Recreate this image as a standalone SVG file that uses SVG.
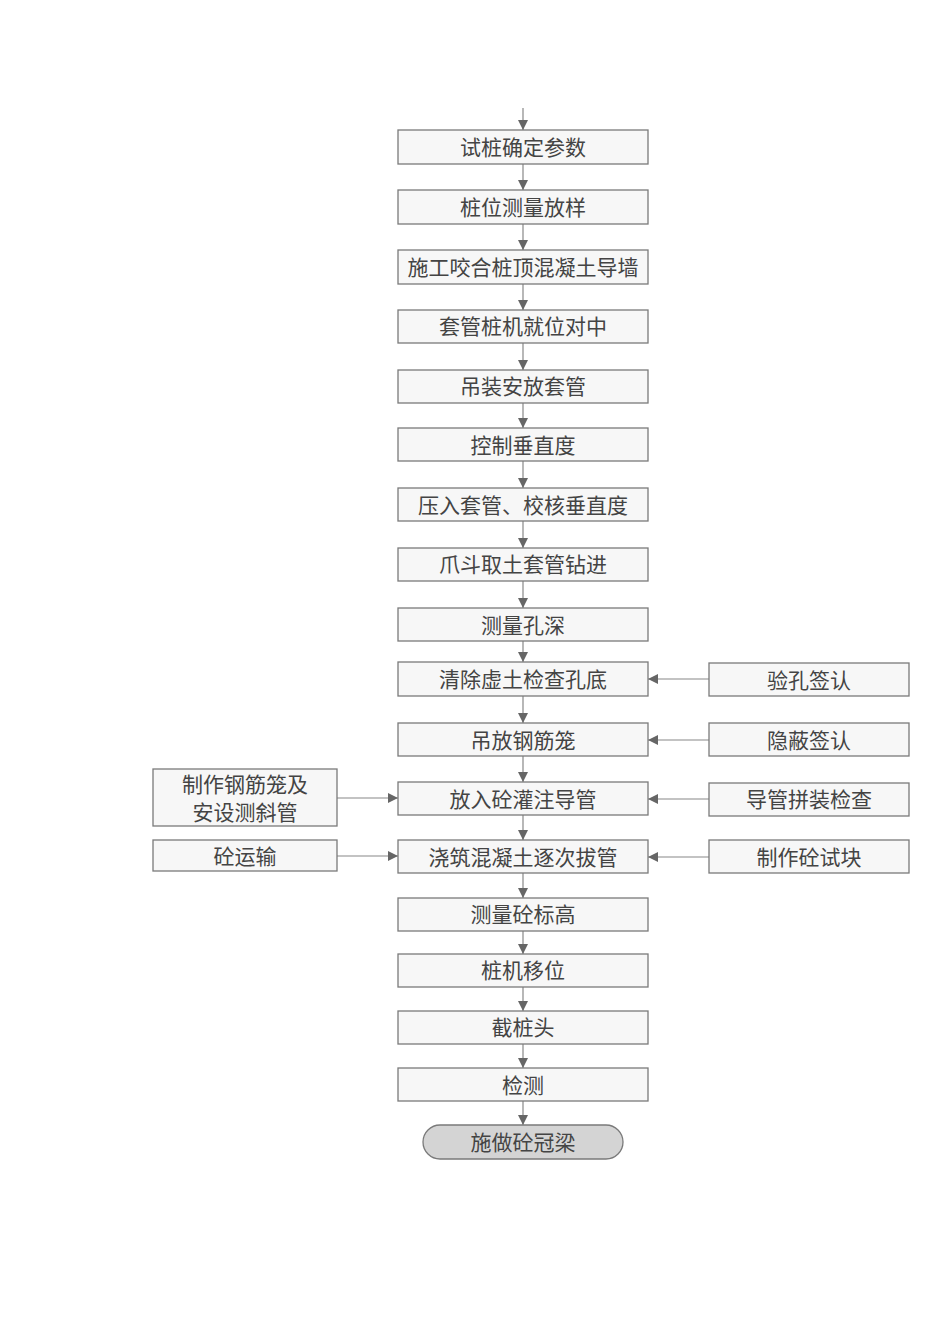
<svg xmlns="http://www.w3.org/2000/svg" width="950" height="1318" viewBox="0 0 950 1318">
<defs>
<marker id="ah" viewBox="0 0 10 10" refX="10" refY="5" markerWidth="10" markerHeight="10" markerUnits="userSpaceOnUse" orient="auto">
<path d="M0,0 L10,5 L0,10 Z" fill="#666"/>
</marker>
<style>
.b{fill:#f7f7f7;stroke:#7a7a7a;stroke-width:1.3}
.e{fill:#d4d4d4;stroke:#7a7a7a;stroke-width:1.3}
.t{font-family:"Noto Sans CJK SC","Noto Sans",sans-serif;font-size:21px;fill:#444;text-anchor:middle;dominant-baseline:central}
.c{stroke:#888;stroke-width:1.2;fill:none;marker-end:url(#ah)}
</style>
</defs>
<rect width="950" height="1318" fill="#fff"/>
<g id="connectors">
<line class="c" x1="523" y1="108" x2="523" y2="130"/>
<line class="c" x1="523" y1="164" x2="523" y2="190"/>
<line class="c" x1="523" y1="224" x2="523" y2="250"/>
<line class="c" x1="523" y1="284" x2="523" y2="310"/>
<line class="c" x1="523" y1="343" x2="523" y2="370"/>
<line class="c" x1="523" y1="403" x2="523" y2="428"/>
<line class="c" x1="523" y1="461" x2="523" y2="488"/>
<line class="c" x1="523" y1="521" x2="523" y2="548"/>
<line class="c" x1="523" y1="581" x2="523" y2="608"/>
<line class="c" x1="523" y1="641" x2="523" y2="662"/>
<line class="c" x1="523" y1="696" x2="523" y2="723"/>
<line class="c" x1="523" y1="756" x2="523" y2="782"/>
<line class="c" x1="523" y1="815" x2="523" y2="840"/>
<line class="c" x1="523" y1="873" x2="523" y2="898"/>
<line class="c" x1="523" y1="931" x2="523" y2="954"/>
<line class="c" x1="523" y1="987" x2="523" y2="1011"/>
<line class="c" x1="523" y1="1044" x2="523" y2="1068"/>
<line class="c" x1="523" y1="1101" x2="523" y2="1125"/>
<line class="c" x1="709" y1="679" x2="648" y2="679"/>
<line class="c" x1="709" y1="740" x2="648" y2="740"/>
<line class="c" x1="709" y1="799" x2="648" y2="799"/>
<line class="c" x1="709" y1="857" x2="648" y2="857"/>
<line class="c" x1="337" y1="798" x2="398" y2="798"/>
<line class="c" x1="337" y1="856" x2="398" y2="856"/>
</g>
<g id="n1"><rect class="b" x="398" y="130" width="250" height="34"/><text class="t" x="523" y="146">试桩确定参数</text></g>
<g id="n2"><rect class="b" x="398" y="190" width="250" height="34"/><text class="t" x="523" y="206">桩位测量放样</text></g>
<g id="n3"><rect class="b" x="398" y="250" width="250" height="34"/><text class="t" x="523" y="266">施工咬合桩顶混凝土导墙</text></g>
<g id="n4"><rect class="b" x="398" y="310" width="250" height="33"/><text class="t" x="523" y="325">套管桩机就位对中</text></g>
<g id="n5"><rect class="b" x="398" y="370" width="250" height="33"/><text class="t" x="523" y="385">吊装安放套管</text></g>
<g id="n6"><rect class="b" x="398" y="428" width="250" height="33"/><text class="t" x="523" y="444">控制垂直度</text></g>
<g id="n7"><rect class="b" x="398" y="488" width="250" height="33"/><text class="t" x="523" y="504">压入套管、校核垂直度</text></g>
<g id="n8"><rect class="b" x="398" y="548" width="250" height="33"/><text class="t" x="523" y="563">爪斗取土套管钻进</text></g>
<g id="n9"><rect class="b" x="398" y="608" width="250" height="33"/><text class="t" x="523" y="624">测量孔深</text></g>
<g id="n10"><rect class="b" x="398" y="662" width="250" height="34"/><text class="t" x="523" y="678">清除虚土检查孔底</text></g>
<g id="n11"><rect class="b" x="398" y="723" width="250" height="33"/><text class="t" x="523" y="739">吊放钢筋笼</text></g>
<g id="n12"><rect class="b" x="398" y="782" width="250" height="33"/><text class="t" x="523" y="798">放入砼灌注导管</text></g>
<g id="n13"><rect class="b" x="398" y="840" width="250" height="33"/><text class="t" x="523" y="856">浇筑混凝土逐次拔管</text></g>
<g id="n14"><rect class="b" x="398" y="898" width="250" height="33"/><text class="t" x="523" y="913">测量砼标高</text></g>
<g id="n15"><rect class="b" x="398" y="954" width="250" height="33"/><text class="t" x="523" y="969">桩机移位</text></g>
<g id="n16"><rect class="b" x="398" y="1011" width="250" height="33"/><text class="t" x="523" y="1026">截桩头</text></g>
<g id="n17"><rect class="b" x="398" y="1068" width="250" height="33"/><text class="t" x="523" y="1084">检测</text></g>
<g id="n18"><rect class="e" x="423" y="1125" width="200" height="34" rx="17" ry="17"/><text class="t" x="523" y="1141">施做砼冠梁</text></g>
<g id="r1"><rect class="b" x="709" y="663" width="200" height="33"/><text class="t" x="809" y="679">验孔签认</text></g>
<g id="r2"><rect class="b" x="709" y="723" width="200" height="33"/><text class="t" x="809" y="739">隐蔽签认</text></g>
<g id="r3"><rect class="b" x="709" y="783" width="200" height="33"/><text class="t" x="809" y="798">导管拼装检查</text></g>
<g id="r4"><rect class="b" x="709" y="840" width="200" height="33"/><text class="t" x="809" y="856">制作砼试块</text></g>
<g id="l1"><rect class="b" x="153" y="769" width="184" height="57"/><text class="t" x="245" y="783" font-size="19">制作钢筋笼及</text><text class="t" x="245" y="811" font-size="19">安设测斜管</text></g>
<g id="l2"><rect class="b" x="153" y="840" width="184" height="31"/><text class="t" x="245" y="855">砼运输</text></g>
</svg>
